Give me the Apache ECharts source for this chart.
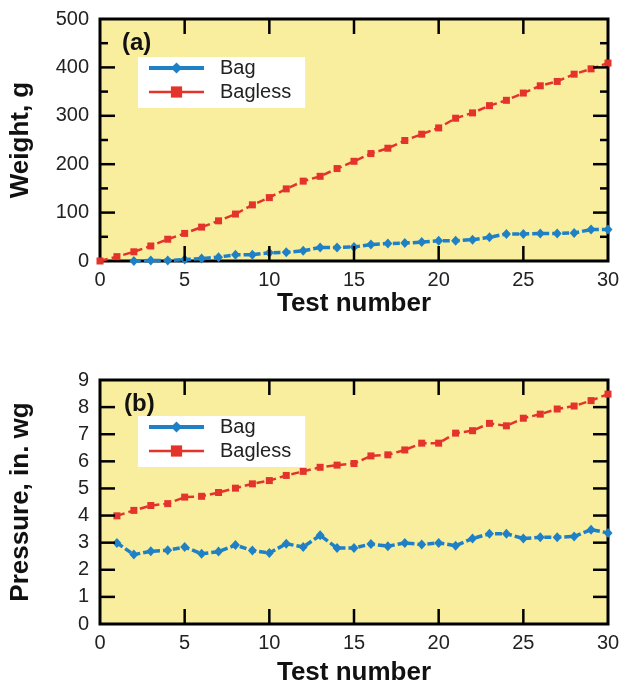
<!DOCTYPE html>
<html>
<head>
<meta charset="utf-8">
<title>Bag vs Bagless</title>
<script src="https://cdn.jsdelivr.net/npm/echarts@6/dist/echarts.min.js"></script>
<style>
  html, body { margin: 0; padding: 0; background: #fff; }
  #chart { width: 625px; height: 690px; }
</style>
</head>
<body>
<div id="chart"></div>
<script>
// (a) weight, tests 0..30
var weightTests = [0, 1, 2, 3, 4, 5, 6, 7, 8, 9, 10, 11, 12, 13, 14, 15, 16, 17, 18, 19, 20, 21, 22, 23, 24, 25, 26, 27, 28, 29, 30]
var bagWeight = [null, null, 0, 1, 1, 3, 5, 8, 13, 13, 17, 18, 21, 28, 28, 29, 34, 36, 37, 39, 42, 42, 44, 49, 56, 56, 57, 57, 58, 65, 65]
var baglessWeight = [0, 9, 19, 31, 45, 57, 70, 83, 97, 116, 131, 149, 165, 175, 191, 206, 222, 233, 249, 262, 275, 295, 306, 321, 332, 347, 362, 371, 386, 397, 409]

// (b) pressure, tests 1..30
var pressureTests = [1, 2, 3, 4, 5, 6, 7, 8, 9, 10, 11, 12, 13, 14, 15, 16, 17, 18, 19, 20, 21, 22, 23, 24, 25, 26, 27, 28, 29, 30]
var bagPressure = [2.99, 2.56, 2.68, 2.72, 2.84, 2.59, 2.67, 2.91, 2.71, 2.62, 2.96, 2.84, 3.27, 2.80, 2.80, 2.95, 2.87, 2.99, 2.93, 2.99, 2.89, 3.15, 3.33, 3.33, 3.15, 3.20, 3.20, 3.23, 3.48, 3.36]
var baglessPressure = [3.99, 4.19, 4.37, 4.44, 4.68, 4.71, 4.85, 5.01, 5.17, 5.29, 5.48, 5.63, 5.78, 5.86, 5.92, 6.20, 6.24, 6.42, 6.67, 6.67, 7.04, 7.13, 7.40, 7.31, 7.59, 7.74, 7.93, 8.04, 8.24, 8.48]

// tick positions
var testTicks = [5, 10, 15, 20, 25]
var weightTicks = [100, 200, 300, 400]
var weightMinorTicks = [50, 150, 250, 350, 450]
var pressureTicks = [1, 2, 3, 4, 5, 6, 7, 8]

var seriesNames = ['Bag', 'Bagless']
var panelLabels = ['(a)', '(b)']

var FONT = 'Liberation Sans, Arial, sans-serif'
var BLUE = '#1f80c6'
var RED = '#e4332b'
var TICK = 15
var MINOR = 8

function pairs (xs, ys) {
  var res = []
  for (var i = 0; i < xs.length; i++) {
    res.push([xs[i], ys[i]])
  }
  return res
}

function xAxis (gridIndex, gap) {
  return {
    type: 'value', gridIndex: gridIndex,
    min: 0, max: 30, interval: 5,
    name: 'Test number',
    nameLocation: 'middle', nameGap: gap,
    nameTextStyle: { fontSize: 26, fontWeight: 'bold', color: '#111', fontFamily: FONT },
    axisLine: { show: false },
    axisTick: { show: false },
    axisLabel: { fontSize: 20, color: '#222', margin: 9, fontFamily: FONT },
    splitLine: { show: false }
  }
}

function yAxis (gridIndex, max, interval, name) {
  return {
    type: 'value', gridIndex: gridIndex,
    min: 0, max: max, interval: interval,
    name: name,
    nameLocation: 'middle', nameGap: 66,
    nameTextStyle: { fontSize: 26, fontWeight: 'bold', color: '#111', fontFamily: FONT },
    axisLine: { show: false },
    axisTick: { show: false },
    axisLabel: { fontSize: 20, color: '#222', margin: 11, fontFamily: FONT },
    splitLine: { show: false }
  }
}

// inside ticks on all four edges, drawn by a custom series through the axes
// each item: [value, isY, length]
function tickData (xTicks, yTicks, yMinor) {
  var res = []
  xTicks.forEach(function (v) { res.push([v, 0, TICK]) })
  yTicks.forEach(function (v) { res.push([v, 1, TICK]) })
  ;(yMinor || []).forEach(function (v) { res.push([v, 1, MINOR]) })
  return res
}

function tickSeries (idx, data) {
  return {
    type: 'custom', xAxisIndex: idx, yAxisIndex: idx, silent: true, z: 4,
    data: data,
    encode: { x: -1, y: -1 },
    renderItem: function (params, api) {
      var cs = params.coordSys
      var v = api.value(0)
      var isY = api.value(1)
      var len = api.value(2)
      var style = { stroke: '#000', lineWidth: 2.5 }
      var a, b
      if (isY) {
        var py = api.coord([0, v])[1]
        a = { x1: cs.x, y1: py, x2: cs.x + len, y2: py }
        b = { x1: cs.x + cs.width, y1: py, x2: cs.x + cs.width - len, y2: py }
      } else {
        var px = api.coord([v, 0])[0]
        a = { x1: px, y1: cs.y + cs.height, x2: px, y2: cs.y + cs.height - len }
        b = { x1: px, y1: cs.y, x2: px, y2: cs.y + len }
      }
      return {
        type: 'group',
        children: [
          { type: 'line', shape: a, style: style },
          { type: 'line', shape: b, style: style }
        ]
      }
    }
  }
}

function bagSeries (idx, data) {
  return {
    name: seriesNames[0], type: 'line', xAxisIndex: idx, yAxisIndex: idx,
    data: data, symbol: 'diamond', symbolSize: [9, 10],
    itemStyle: { color: BLUE },
    lineStyle: { color: BLUE, width: 3.5, type: [7, 3] },
    connectNulls: false, clip: false
  }
}

function baglessSeries (idx, data) {
  return {
    name: seriesNames[1], type: 'line', xAxisIndex: idx, yAxisIndex: idx,
    data: data, symbol: 'rect', symbolSize: 7,
    itemStyle: { color: RED },
    lineStyle: { color: RED, width: 2.5, type: [8, 4] },
    clip: false
  }
}

function legend (top) {
  return {
    data: [
      { name: seriesNames[0], lineStyle: { width: 4, type: 'solid' } },
      { name: seriesNames[1], lineStyle: { width: 2.5, type: 'solid' } }
    ],
    orient: 'vertical', left: 138, top: top,
    backgroundColor: '#fff', padding: [1, 14, 6, 9],
    itemWidth: 55, itemHeight: 14, itemGap: 4,
    textStyle: { fontSize: 20, color: '#222', fontFamily: FONT, padding: [0, 0, 0, 11] }
  }
}

var chart = echarts.init(document.getElementById('chart'), null, { renderer: 'canvas' })

chart.setOption({
  animation: false,
  backgroundColor: '#fff',
  textStyle: { fontFamily: FONT },
  grid: [
    { left: 99, top: 19, width: 509, height: 242, show: true, backgroundColor: '#f8ee9e', borderColor: '#000', borderWidth: 3 },
    { left: 99, top: 380, width: 509, height: 244, show: true, backgroundColor: '#f8ee9e', borderColor: '#000', borderWidth: 3 }
  ],
  legend: [legend(57), legend(416)],
  xAxis: [
    xAxis(0, 29),
    xAxis(1, 36)
  ],
  yAxis: [
    yAxis(0, 500, 100, 'Weight, g'),
    yAxis(1, 9, 1, 'Pressure, in. wg')
  ],
  series: [
    tickSeries(0, tickData(testTicks, weightTicks, weightMinorTicks)),
    tickSeries(1, tickData(testTicks, pressureTicks)),
    bagSeries(0, pairs(weightTests, bagWeight)),
    baglessSeries(0, pairs(weightTests, baglessWeight)),
    bagSeries(1, pairs(pressureTests, bagPressure)),
    baglessSeries(1, pairs(pressureTests, baglessPressure))
  ],
  // panel letters
  graphic: [
    { type: 'text', left: 122, top: 31, style: { text: panelLabels[0], font: 'bold 24px ' + FONT, fill: '#111' } },
    { type: 'text', left: 124, top: 392, style: { text: panelLabels[1], font: 'bold 24px ' + FONT, fill: '#111' } }
  ]
})
</script>
</body>
</html>
